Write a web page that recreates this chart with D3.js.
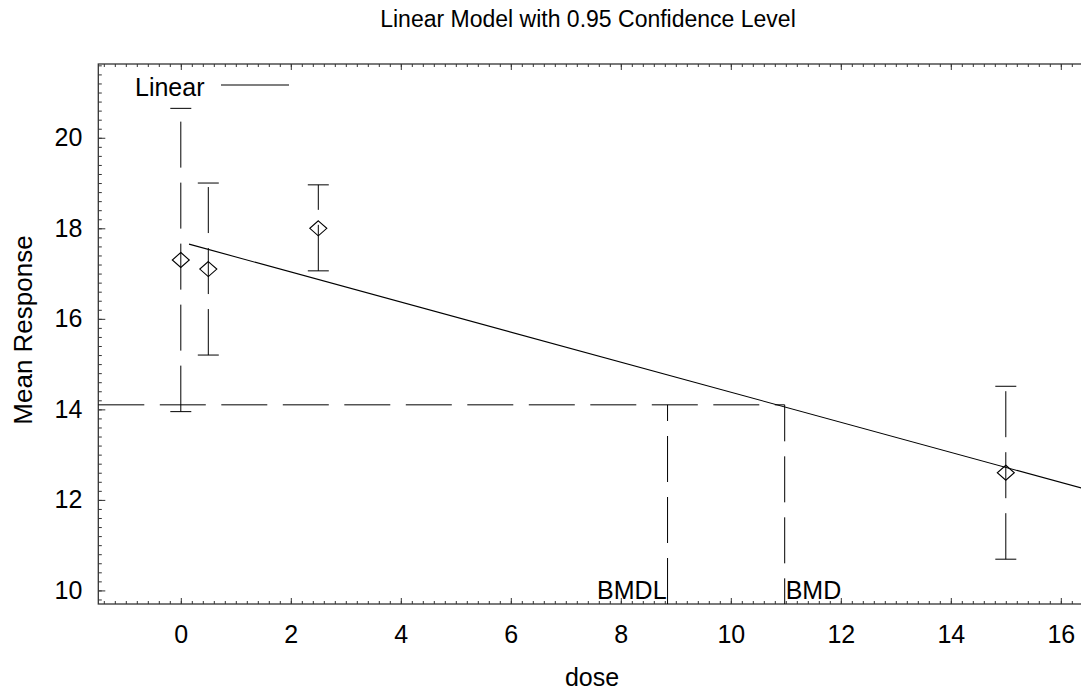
<!DOCTYPE html>
<html>
<head>
<meta charset="utf-8">
<script src="https://cdn.jsdelivr.net/npm/d3@7"></script>
<style>
  html, body { margin: 0; padding: 0; background: #fff; }
  svg { display: block; font-family: "Liberation Sans", Arial, sans-serif; }
</style>
</head>
<body>
<svg id="chart" width="1081" height="694"></svg>
<script>
// ---- data ----
const doses      = [0, 0.5, 2.5, 15];
const means      = [17.3, 17.1, 18.0, 12.6];
const upperCI    = [20.65, 19.0, 18.96, 14.51];
const lowerCI    = [13.95, 15.2, 17.06, 10.69];

const modelDose  = [0.15, 16.5];
const modelResp  = [17.65, 12.22];

const bmr  = 14.1;
const bmd  = 10.98;
const bmdl = 8.85;

const xTicks = [0, 2, 4, 6, 8, 10, 12, 14, 16];
const yTicks = [10, 12, 14, 16, 18, 20];
const xDomain = [-1.5, 16.5];
const yDomain = [9.7, 21.63];

const titleText = "Linear Model with 0.95 Confidence Level";
const xLabel = "dose";
const yLabel = "Mean Response";
const legendLabel = "Linear";

// ---- layout ----
const pLeft = 98.3, pRight = 1088.3, pTop = 64, pBottom = 604;
const svg = d3.select("#chart");
const x = d3.scaleLinear().domain(xDomain).range([pLeft, pRight]);
const y = d3.scaleLinear().domain(yDomain).range([pBottom, pTop]);

const minorX = d3.range(Math.round(xDomain[0] * 5), Math.round(xDomain[1] * 5) + 1).map(v => v / 5);
const minorY = d3.range(Math.ceil(yDomain[0] * 5), Math.floor(yDomain[1] * 5) + 1).map(v => v / 5);

const FS = 25;
const frameColor = "#333";

function styleAxis(g) {
  g.select(".domain").remove();
  g.selectAll(".tick line").attr("stroke", frameColor);
}
svg.append("g").attr("transform", `translate(0,${pBottom})`)
  .call(d3.axisBottom(x).tickValues(minorX).tickSize(-3).tickFormat(""))
  .call(styleAxis);
svg.append("g").attr("transform", `translate(0,${pBottom})`)
  .call(d3.axisBottom(x).tickValues(xTicks).tickSize(-6).tickPadding(21).tickFormat(d3.format("d")))
  .call(styleAxis)
  .call(g => g.selectAll("text").attr("font-size", FS).attr("fill", "#000").attr("font-family", "Liberation Sans, Arial, sans-serif"));
svg.append("g").attr("transform", `translate(0,${pTop})`)
  .call(d3.axisTop(x).tickValues(minorX).tickSize(-3).tickFormat(""))
  .call(styleAxis);
svg.append("g").attr("transform", `translate(0,${pTop})`)
  .call(d3.axisTop(x).tickValues(xTicks).tickSize(-6).tickFormat(""))
  .call(styleAxis);

svg.append("g").attr("transform", `translate(${pLeft},0)`)
  .call(d3.axisLeft(y).tickValues(minorY).tickSize(-3.5).tickFormat(""))
  .call(styleAxis);
svg.append("g").attr("transform", `translate(${pLeft},0)`)
  .call(d3.axisLeft(y).tickValues(yTicks).tickSize(-7).tickPadding(16).tickFormat(d3.format("d")))
  .call(styleAxis)
  .call(g => g.selectAll("text").attr("font-size", FS).attr("fill", "#000").attr("font-family", "Liberation Sans, Arial, sans-serif"));
svg.append("g").attr("transform", `translate(${pRight},0)`)
  .call(d3.axisRight(y).tickValues(minorY).tickSize(-3.5).tickFormat(""))
  .call(styleAxis);
svg.append("g").attr("transform", `translate(${pRight},0)`)
  .call(d3.axisRight(y).tickValues(yTicks).tickSize(-7).tickFormat(""))
  .call(styleAxis);

svg.append("rect")
  .attr("x", pLeft).attr("y", pTop)
  .attr("width", pRight - pLeft).attr("height", pBottom - pTop)
  .attr("fill", "none").attr("stroke", frameColor).attr("stroke-width", 1.3);

const dash = "46,15";

svg.append("line")
  .attr("x1", x(xDomain[0])).attr("x2", x(bmd))
  .attr("y1", y(bmr)).attr("y2", y(bmr))
  .attr("stroke", "#000").attr("stroke-dasharray", "46,15.5");

svg.append("line")
  .attr("x1", x(bmdl)).attr("x2", x(bmdl))
  .attr("y1", y(yDomain[0])).attr("y2", y(bmr))
  .attr("stroke", "#000").attr("stroke-dasharray", dash);
svg.append("line")
  .attr("x1", x(bmd)).attr("x2", x(bmd))
  .attr("y1", y(bmr)).attr("y2", y(yDomain[0]))
  .attr("stroke", "#000").attr("stroke-dasharray", dash).attr("stroke-dashoffset", 9.5);

const bars = svg.append("g");
doses.forEach((d, i) => {
  const cx = x(d);
  bars.append("line")
    .attr("x1", cx).attr("x2", cx)
    .attr("y1", y(lowerCI[i])).attr("y2", y(upperCI[i]))
    .attr("stroke", "#000").attr("stroke-dasharray", dash);
  [upperCI[i], lowerCI[i]].forEach(v => {
    bars.append("line")
      .attr("x1", cx - 10.5).attr("x2", cx + 10.5)
      .attr("y1", y(v)).attr("y2", y(v))
      .attr("stroke", "#000");
  });
});

svg.append("g").selectAll("path").data(doses).join("path")
  .attr("d", (d, i) => {
    const cx = x(d), cy = y(means[i]), w = 8.5, h = 7.5;
    return `M${cx},${cy - h}L${cx + w},${cy}L${cx},${cy + h}L${cx - w},${cy}Z`;
  })
  .attr("fill", "none").attr("stroke", "#000").attr("stroke-width", 1.1);

svg.append("defs").append("clipPath").attr("id", "clip")
  .append("rect").attr("x", pLeft).attr("y", pTop).attr("width", pRight - pLeft).attr("height", pBottom - pTop);
svg.append("path")
  .datum(modelDose.map((d, i) => [d, modelResp[i]]))
  .attr("clip-path", "url(#clip)")
  .attr("d", d3.line().x(p => x(p[0])).y(p => y(p[1])))
  .attr("fill", "none").attr("stroke", "#000").attr("stroke-width", 1.1);

svg.append("text").attr("x", x(bmdl) - 1).attr("y", 599)
  .attr("text-anchor", "end").attr("font-size", FS).text("BMDL");
svg.append("text").attr("x", x(bmd) + 1).attr("y", 599)
  .attr("text-anchor", "start").attr("font-size", FS).text("BMD");

svg.append("text").attr("x", 135).attr("y", 96).attr("font-size", FS).text(legendLabel);
svg.append("line").attr("x1", 221).attr("x2", 289).attr("y1", 85).attr("y2", 85)
  .attr("stroke", "#000").attr("stroke-width", 1.1);

svg.append("text").attr("x", 588).attr("y", 27).attr("text-anchor", "middle")
  .attr("font-size", 23).text(titleText);
svg.append("text").attr("x", 592).attr("y", 686).attr("text-anchor", "middle")
  .attr("font-size", 25).text(xLabel);
svg.append("text").attr("transform", `translate(32,330) rotate(-90)`)
  .attr("text-anchor", "middle").attr("font-size", 26).text(yLabel);
</script>
</body>
</html>
